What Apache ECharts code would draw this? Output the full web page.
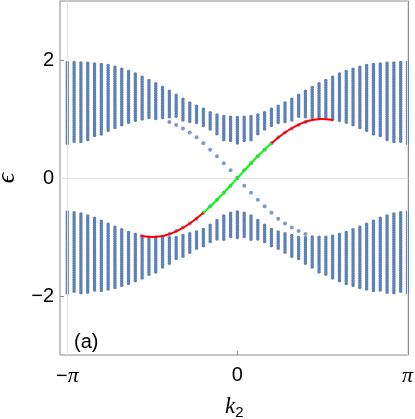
<!DOCTYPE html>
<html>
<head>
<meta charset="utf-8">
<script src="https://cdn.jsdelivr.net/npm/echarts@6/dist/echarts.min.js"></script>
<style>
  html, body { margin: 0; padding: 0; background: #fff; }
  #main { width: 415px; height: 419px; }
</style>
</head>
<body>
<div id="main"></div>
<script>
// k2 sample points, in units of pi
const k2 = [-1.00, -0.96, -0.92, -0.88, -0.84, -0.80, -0.76, -0.72, -0.68, -0.64,
  -0.60, -0.56, -0.52, -0.48, -0.44, -0.40, -0.36, -0.32, -0.28, -0.24,
  -0.20, -0.16, -0.12, -0.08, -0.04, 0.00, 0.04, 0.08, 0.12, 0.16,
  0.20, 0.24, 0.28, 0.32, 0.36, 0.40, 0.44, 0.48, 0.52, 0.56,
  0.60, 0.64, 0.68, 0.72, 0.76, 0.80, 0.84, 0.88, 0.92, 0.96, 1.00]

// upper bulk band: outer (top) and inner (bottom) edge per k2
const upperOuter = [1.957, 1.955, 1.950, 1.943, 1.933, 1.921, 1.904, 1.876, 1.842, 1.806,
  1.760, 1.706, 1.652, 1.595, 1.535, 1.470, 1.400, 1.335, 1.272, 1.215,
  1.165, 1.105, 1.065, 1.040, 1.027, 1.025, 1.027, 1.040, 1.065, 1.105,
  1.165, 1.215, 1.272, 1.335, 1.400, 1.470, 1.535, 1.595, 1.652, 1.706,
  1.760, 1.806, 1.842, 1.876, 1.904, 1.921, 1.933, 1.943, 1.950, 1.955, 1.957]
const upperInner = [0.578, 0.589, 0.612, 0.645, 0.685, 0.733, 0.785, 0.836, 0.880, 0.925,
  0.958, 0.990, 1.005, 1.005, 1.000, 1.015, 1.010, 0.975, 0.945, 0.915,
  0.875, 0.800, 0.720, 0.645, 0.598, 0.575, 0.598, 0.645, 0.720, 0.800,
  0.875, 0.915, 0.945, 0.975, 1.010, 1.015, 1.000, 1.005, 1.005, 0.990,
  0.958, 0.925, 0.880, 0.836, 0.785, 0.733, 0.685, 0.645, 0.612, 0.589, 0.578]

// lower bulk band
const lowerInner = [-0.578, -0.589, -0.612, -0.645, -0.685, -0.733, -0.785, -0.836, -0.880, -0.925,
  -0.958, -0.990, -1.005, -1.005, -1.000, -1.015, -1.010, -0.975, -0.945, -0.915,
  -0.875, -0.800, -0.720, -0.645, -0.598, -0.575, -0.598, -0.645, -0.720, -0.800,
  -0.875, -0.915, -0.945, -0.975, -1.010, -1.015, -1.000, -1.005, -1.005, -0.990,
  -0.958, -0.925, -0.880, -0.836, -0.785, -0.733, -0.685, -0.645, -0.612, -0.589, -0.578]
const lowerOuter = [-1.957, -1.955, -1.950, -1.943, -1.933, -1.921, -1.904, -1.876, -1.842, -1.806,
  -1.760, -1.706, -1.652, -1.595, -1.535, -1.470, -1.400, -1.335, -1.272, -1.215,
  -1.165, -1.105, -1.065, -1.040, -1.027, -1.025, -1.027, -1.040, -1.065, -1.105,
  -1.165, -1.215, -1.272, -1.335, -1.400, -1.470, -1.535, -1.595, -1.652, -1.706,
  -1.760, -1.806, -1.842, -1.876, -1.904, -1.921, -1.933, -1.943, -1.950, -1.955, -1.957]

// in-gap edge states, sampled on the same k2 grid
const edgeK = [-0.40, -0.36, -0.32, -0.28, -0.24, -0.20, -0.16, -0.12, -0.08, -0.04,
  0.00, 0.04, 0.08, 0.12, 0.16, 0.20, 0.24, 0.28, 0.32, 0.36, 0.40]
const edgeFalling = [0.95, 0.90, 0.84, 0.77, 0.69, 0.59, 0.48, 0.37, 0.25, 0.13,
  0.00, -0.13, -0.25, -0.37, -0.48, -0.59, -0.69, -0.77, -0.84, -0.90, -0.95]
const edgeRising = [-0.95, -0.90, -0.84, -0.77, -0.69, -0.59, -0.48, -0.37, -0.25, -0.13,
  0.00, 0.13, 0.25, 0.37, 0.48, 0.59, 0.69, 0.77, 0.84, 0.90, 0.95]

// highlighted edge branch (red / green curve)
const curveK = [-0.57, -0.54, -0.50, -0.46, -0.42, -0.38, -0.34, -0.30, -0.26, -0.22,
  -0.20, -0.16, -0.12, -0.08, -0.04, 0.00, 0.04, 0.08, 0.12, 0.16,
  0.20, 0.22, 0.26, 0.30, 0.34, 0.38, 0.42, 0.46, 0.50, 0.54, 0.565]
const curveE = [-0.975, -0.992, -1.000, -0.992, -0.969, -0.930, -0.876, -0.809, -0.729, -0.637,
  -0.588, -0.482, -0.368, -0.249, -0.125, 0.000, 0.125, 0.249, 0.368, 0.482,
  0.588, 0.637, 0.729, 0.809, 0.876, 0.930, 0.969, 0.992, 1.000, 0.992, 0.980]
const greenLimit = 0.20

const xTicks = [-1, 0, 1]
const xTickText = ['{n|\u2212}{p|\u03c0}', '{n|0}', '{p|\u03c0}']
const yTicks = [-2, 0, 2]

const BLUE = '#5e81b5'
const FRAME = '#8c8c8c'
const SANS = 'Liberation Sans, Arial, sans-serif'
const SERIF = 'Liberation Serif, Times New Roman, serif'

// one column of eigenvalues: a dotted vertical stroke between the two edges
function renderColumn (params, api) {
  let hi = api.coord([api.value(0), api.value(2)])
  let lo = api.coord([api.value(0), api.value(1)])
  return {
    type: 'line',
    shape: { x1: hi[0], y1: hi[1], x2: lo[0], y2: lo[1] },
    style: { stroke: BLUE, lineWidth: 3.6, lineCap: 'round', lineDash: [0.01, 2.3] },
  }
}

let upperData = k2.map((k, i) => [k, upperInner[i], upperOuter[i]])
let lowerData = k2.map((k, i) => [k, lowerOuter[i], lowerInner[i]])
let curve = curveK.map((k, i) => [k, curveE[i]])

let chart = echarts.init(document.getElementById('main'))
let option = {
  animation: false,
  grid: {
    left: 60,
    top: 1,
    width: 348.5,
    height: 354,
    outerBoundsMode: 'none',
    show: true,
    borderColor: FRAME,
    borderWidth: 1,
  },
  title: {
    text: '(a)',
    left: 69,
    top: 327,
    textStyle: { fontFamily: SANS, fontSize: 20, fontWeight: 'normal', color: '#000' },
  },
  xAxis: {
    type: 'value',
    min: -1.043,
    max: 1.006,
    name: '{k|k}{s|2}',
    nameLocation: 'middle',
    nameGap: 38,
    nameTextStyle: {
      rich: {
        k: { fontFamily: SERIF, fontStyle: 'italic', fontSize: 23, color: '#000' },
        s: { fontFamily: SANS, fontSize: 15, color: '#000', padding: [12, 0, 0, 0] },
      },
    },
    axisLine: { show: false, onZero: false },
    splitLine: { show: false },
    axisTick: { inside: true, length: 4, customValues: xTicks, lineStyle: { color: FRAME } },
    axisLabel: {
      customValues: xTicks,
      margin: 10,
      formatter: (v) => xTickText[xTicks.indexOf(v)],
      rich: {
        n: { fontFamily: SANS, fontSize: 20, color: '#000' },
        p: { fontFamily: SERIF, fontStyle: 'italic', fontSize: 22, color: '#000' },
      },
    },
  },
  yAxis: {
    type: 'value',
    min: -3,
    max: 3,
    name: '\u03f5',
    nameLocation: 'middle',
    nameGap: 40,
    nameRotate: 90,
    nameTextStyle: { fontFamily: SERIF, fontStyle: 'italic', fontSize: 26, color: '#000' },
    axisLine: { show: false, onZero: false },
    splitLine: { show: false },
    axisTick: { inside: true, length: 4, customValues: yTicks, lineStyle: { color: FRAME } },
    axisLabel: {
      customValues: yTicks,
      margin: 6,
      fontFamily: SANS,
      fontSize: 20,
      color: '#000',
      formatter: (v) => (v < 0 ? '\u2212' + Math.abs(v) : String(v)),
    },
  },
  series: [
    {
      // light grid lines at -pi, pi and zero energy
      type: 'line',
      data: [],
      z: 1,
      markLine: {
        silent: true,
        symbol: 'none',
        label: { show: false },
        lineStyle: { color: '#e3e3e3', width: 1, type: 'solid' },
        data: [{ xAxis: -1 }, { xAxis: 1 }, { yAxis: 0 }],
      },
    },
    { type: 'custom', data: upperData, renderItem: renderColumn, encode: { x: 0, y: [1, 2] }, z: 2 },
    { type: 'custom', data: lowerData, renderItem: renderColumn, encode: { x: 0, y: [1, 2] }, z: 2 },
    {
      type: 'scatter',
      data: edgeK.map((k, i) => [k, edgeFalling[i]]),
      symbolSize: 4,
      itemStyle: { color: BLUE },
      z: 3,
    },
    {
      type: 'scatter',
      data: edgeK.map((k, i) => [k, edgeRising[i]]),
      symbolSize: 4,
      itemStyle: { color: BLUE },
      z: 3,
    },
    {
      type: 'line',
      data: curve.filter((p) => p[0] <= -greenLimit),
      showSymbol: false,
      smooth: 0.3,
      lineStyle: { color: '#ff0000', width: 2 },
      z: 4,
    },
    {
      type: 'line',
      data: curve.filter((p) => p[0] >= greenLimit),
      showSymbol: false,
      smooth: 0.3,
      lineStyle: { color: '#ff0000', width: 2 },
      z: 4,
    },
    {
      type: 'line',
      data: curve.filter((p) => p[0] >= -greenLimit && p[0] <= greenLimit),
      showSymbol: false,
      smooth: 0.3,
      lineStyle: { color: '#00ff00', width: 2 },
      z: 5,
    },
  ],
}
option && chart.setOption(option)
</script>
</body>
</html>
